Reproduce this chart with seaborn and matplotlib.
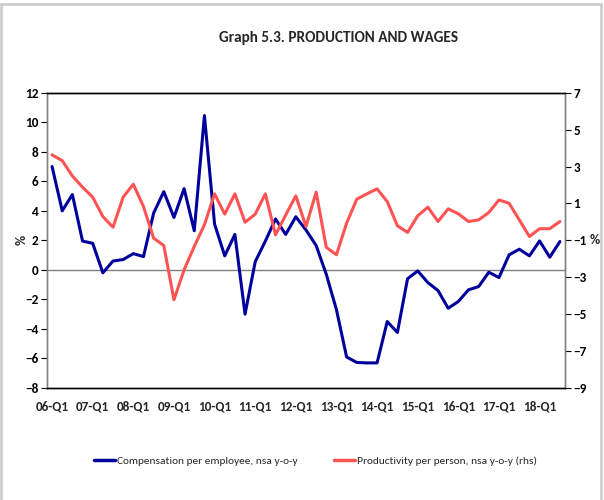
import matplotlib
matplotlib.use("Agg")
import matplotlib.pyplot as plt
import seaborn as sns
import pandas as pd
from matplotlib.patches import Rectangle
from matplotlib.lines import Line2D

sns.set_theme(style="white")
plt.rcParams['font.family'] = ['Carlito', 'DejaVu Sans']

years = list(range(6, 19))
quarters = [f"{y:02d}-Q{q}" for y in years for q in range(1, 5)][:51]

compensation = [7.0, 4.0, 5.1, 1.95, 1.8, -0.2, 0.6, 0.7, 1.1, 0.9,
                3.85, 5.3, 3.55, 5.5, 2.65, 10.45, 3.1, 0.95, 2.4, -3.0,
                0.55, 1.95, 3.45, 2.4, 3.6, 2.7, 1.65, -0.3, -2.7, -5.9,
                -6.27, -6.3, -6.3, -3.5, -4.24, -0.6, -0.07, -0.86, -1.4, -2.6,
                -2.14, -1.35, -1.13, -0.16, -0.52, 1.02, 1.4, 0.95, 1.96, 0.86,
                1.92]
productivity = [3.63, 3.32, 2.49, 1.88, 1.34, 0.29, -0.29, 1.34, 2.04, 0.83,
                -0.88, -1.28, -4.22, -2.6, -1.33, -0.16, 1.52, 0.42, 1.52, -0.02,
                0.42, 1.52, -0.7, 0.37, 1.41, -0.25, 1.61, -1.38, -1.78, -0.07,
                1.23, 1.52, 1.79, 1.1, -0.21, -0.57, 0.33, 0.8, 0.02, 0.71,
                0.44, 0.02, 0.11, 0.51, 1.19, 1.01, 0.11, -0.79, -0.37, -0.37,
                0.02]

df = pd.DataFrame({"idx": range(len(quarters)), "q": quarters,
                   "comp": compensation, "prod": productivity})

fig = plt.figure(figsize=(6.04, 5.0), dpi=100)
fig.patches.append(Rectangle((0.002, -0.05), 0.993, 1.042, transform=fig.transFigure,
                             fill=False, edgecolor='#c8c8c8', linewidth=1.8))
ax = fig.add_axes([0.0778, 0.224, 0.8576, 0.5906])
ax2 = ax.twinx()

blue = '#00009C'
red = '#FF5353'
sns.lineplot(data=df, x="idx", y="comp", ax=ax, color=blue, linewidth=2.2)
sns.lineplot(data=df, x="idx", y="prod", ax=ax2, color=red, linewidth=2.2)

ax.set_xlim(-0.5, len(quarters) - 0.5)
ax.set_ylim(-8, 12)
ax2.set_ylim(-9, 7)
ax.set_yticks(range(-8, 13, 2))
ax2.set_yticks(range(-9, 8, 2))
ax.set_xticks(range(0, len(quarters), 4))
ax.set_xticklabels(quarters[::4])
ax.axhline(0, color='#808080', linewidth=1.0, zorder=1)

ax.set_xlabel("")
ax.set_ylabel("")
ax2.set_ylabel("")
fig.text(0.036, 0.52, "%", fontsize=10, fontweight='bold', ha='center', va='center',
         rotation=90)
fig.text(0.977, 0.519, "%", fontsize=10, fontweight='bold', ha='left', va='center')

for a in (ax, ax2):
    a.tick_params(axis='y', labelsize=9.5, length=4, width=0.8, colors='black', pad=2)
    a.tick_params(axis='x', labelsize=9.5, length=0, pad=9)
    for lab in a.get_yticklabels() + a.get_xticklabels():
        lab.set_fontweight('bold')
    a.grid(False)

for a in (ax, ax2):
    a.spines['top'].set_color('black')
    a.spines['bottom'].set_color('black')
    a.spines['left'].set_color('#808080')
    a.spines['right'].set_color('#808080')
    for s in a.spines.values():
        s.set_linewidth(1.0)

fig.text(0.56, 0.924, "Graph 5.3. PRODUCTION AND WAGES", fontsize=11, fontweight='bold',
         ha='center', va='center')

handles = [Line2D([], [], color=blue, linewidth=2.5),
           Line2D([], [], color=red, linewidth=2.5)]
labels = ["Compensation per employee, nsa y-o-y", "Productivity per person, nsa y-o-y (rhs)"]
fig.legend(handles, labels, loc='center left', bbox_to_anchor=(0.1556, 0.078), ncol=2,
           frameon=False, fontsize=8.2, handlelength=1.85, handletextpad=0.18,
           columnspacing=3.2, borderpad=0, borderaxespad=0)

fig.savefig("out.png", dpi=100)
